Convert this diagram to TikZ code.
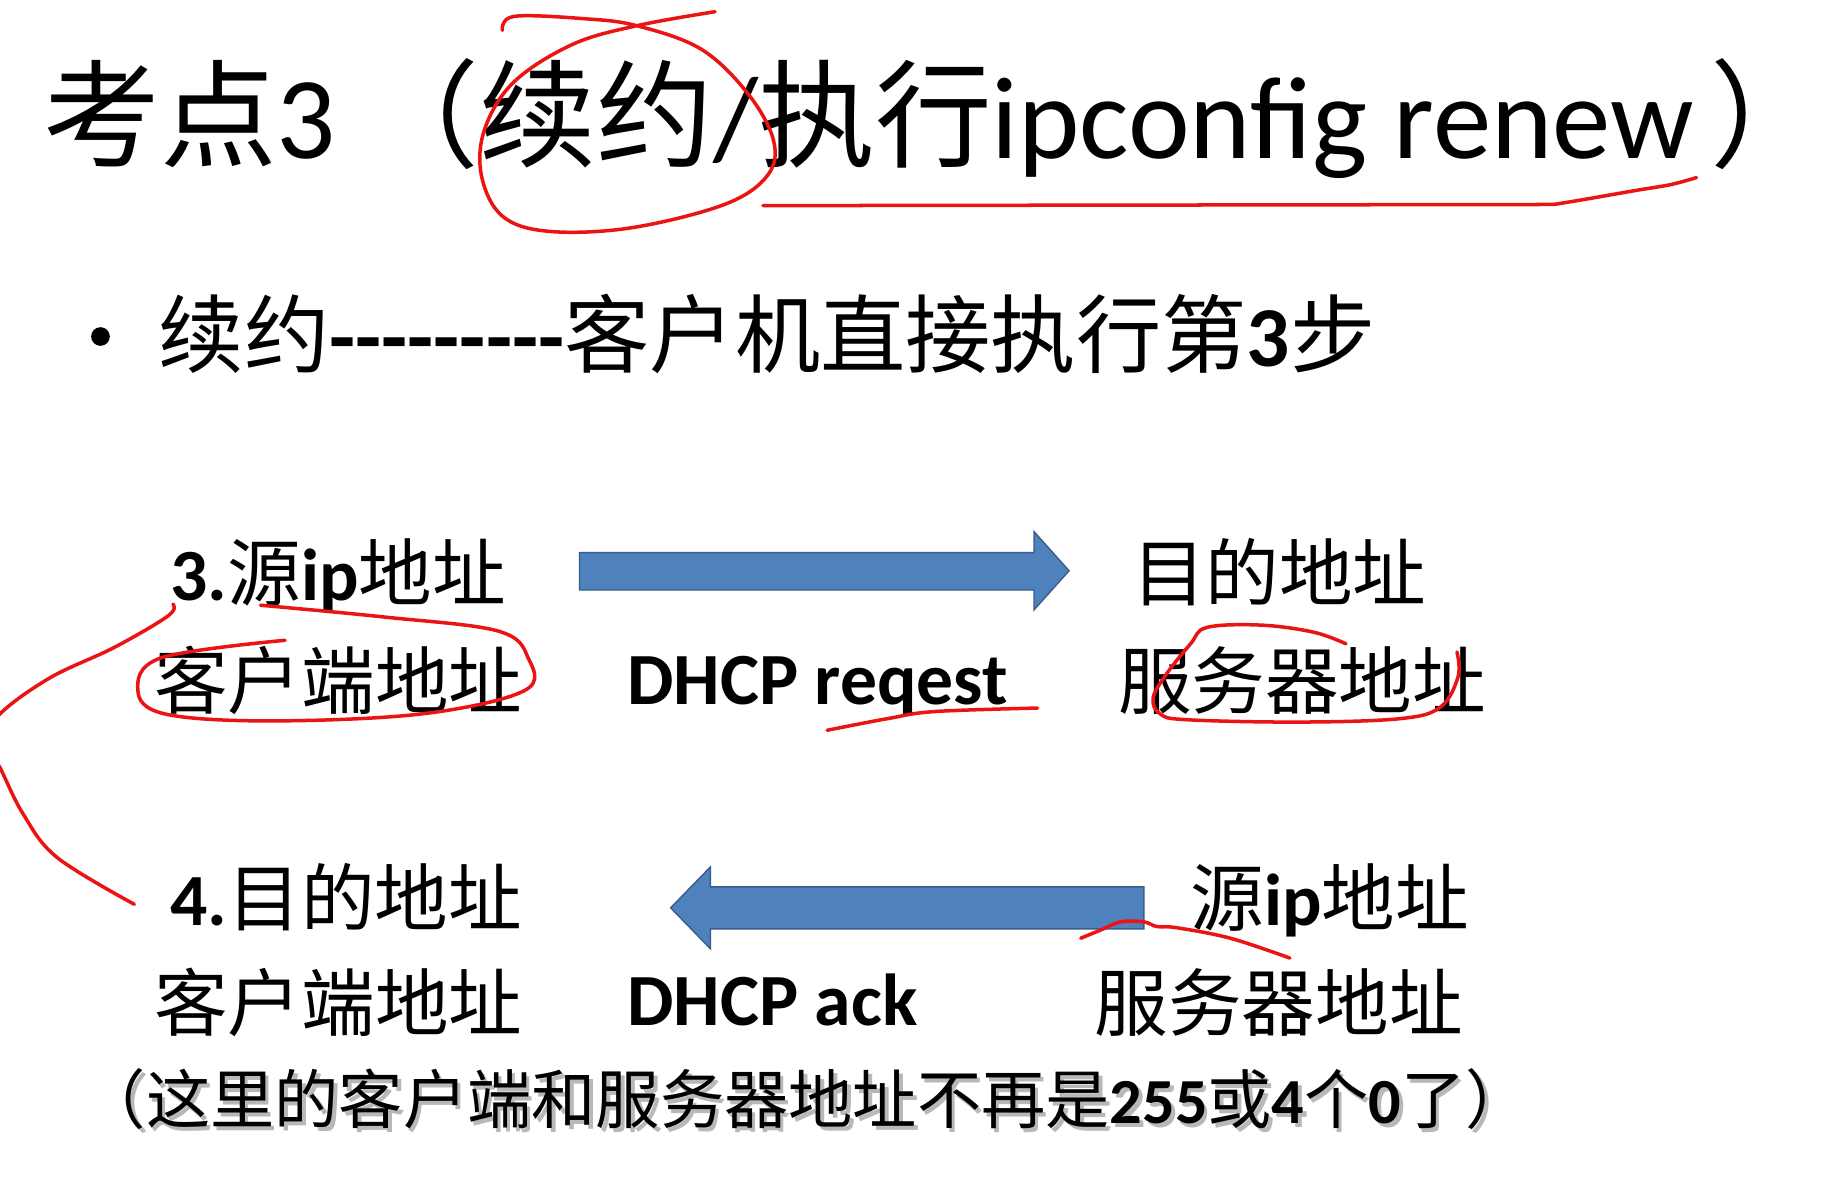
\documentclass[tikz,border=0pt]{standalone}
\usepackage{fontspec}
\setmainfont{Carlito}
\newfontfamily\cjk{Noto Sans CJK SC}
\definecolor{inkred}{RGB}{235,20,20}
\definecolor{arrowblue}{RGB}{79,129,189}
\definecolor{arrowedge}{RGB}{56,93,138}
\newcommand\hy{\mbox{-}}
\newcommand\bottomline{{\cjk （这里的客户端和服务器地址不再是}\textbf{255}{\cjk 或}\textbf{4}{\cjk 个}\textbf{0}{\cjk 了）}}
\begin{document}
\begin{tikzpicture}[x=0.5pt,y=-0.5pt,
  txt/.style={inner sep=0pt,outer sep=0pt,anchor=base west},
  rowtxt/.style={txt,font=\fontsize{31.5pt}{36pt}\selectfont},
  notetxt/.style={txt,font=\fontsize{27.5pt}{32pt}\selectfont},
  titletxt/.style={txt,font=\fontsize{50pt}{60pt}\selectfont},
  ink/.style={draw=inkred,line width=1.5pt,line cap=round,line join=round},
  blockarrow/.style={fill=arrowblue,draw=arrowedge,line width=0.6pt,line join=miter}]
\useasboundingbox[fill=white] (0,0) rectangle (1568,1030);

% title
\node[titletxt] (title) at (37,136)
  {{\cjk 考点}3 {\cjk （续约}/{\cjk 执行}ipconfig renew};
\node[titletxt] (titleparen) at (1464,136) {\cjk ）};

% bullet line
\node[circle,fill=black,inner sep=0pt,minimum size=8pt] (bullet) at (86,288) {};
\node[txt,font=\fontsize{36.5pt}{40pt}\selectfont] (b1) at (136,314)
  {{\cjk 续约}\textbf{\hy\hy\hy\hy\hy\hy\hy\hy\hy}{\cjk 客户机直接执行第}\textbf{3}{\cjk 步}};

% step 3
\node[rowtxt] (src1) at (146,514) {\textbf{3.}{\cjk 源}\textbf{ip}{\cjk 地址}};
\node[rowtxt] (cli1) at (132,606) {\cjk 客户端地址};
\node[rowtxt] (dst1) at (969,514) {\cjk 目的地址};
\node[rowtxt] (srv1) at (957,606) {\cjk 服务器地址};
\node[rowtxt,font=\fontsize{31.5pt}{36pt}\selectfont\bfseries] (req) at (537,603) {DHCP reqest};

% step 4
\node[rowtxt] (dst2) at (146,792) {\textbf{4.}{\cjk 目的地址}};
\node[rowtxt] (cli2) at (132,882) {\cjk 客户端地址};
\node[rowtxt] (src2) at (1019,792) {{\cjk 源}\textbf{ip}{\cjk 地址}};
\node[rowtxt] (srv2) at (937,882) {\cjk 服务器地址};
\node[rowtxt,font=\fontsize{31.5pt}{36pt}\selectfont\bfseries] (ack) at (537,878) {DHCP ack};

% bottom note with shadow
\node[notetxt,text=black!28] (noteshadow) at (73,965) {\bottomline};
\node[notetxt] (note) at (70,962) {\bottomline};

% block arrows
\path[blockarrow] (496,473) -- (885,473) -- (885,455) -- (915,488.5) -- (885,522) -- (885,505) -- (496,505) -- cycle;
\path[blockarrow] (979,759) -- (608,759) -- (608,742) -- (574,777) -- (608,812) -- (608,795) -- (979,795) -- cycle;

% red handwriting
\draw[ink] plot[smooth,tension=0.6] coordinates {(430,26) (440,14) (500,16) (545,22) (600,42) (640,80) (662,120) (657,150) (620,175) (540,195) (470,198) (430,185) (412,150) (415,110) (440,70) (490,38) (545,22) (612,10)};
\draw[ink] (653,176) -- (1330,175);
\draw[ink] plot[smooth,tension=0.5] coordinates {(1330,175) (1360,170) (1400,163) (1430,158) (1452,152)};
\draw[ink] plot[smooth,tension=0.6] coordinates {(148,517) (144,527) (98,554) (43,580) (0,611) (-12,635) (0,657) (20,697) (49,734) (115,774)};
\draw[ink] plot[smooth,tension=0.6] coordinates {(244,548) (138,563) (118,591) (141,611) (230,617) (361,611) (449,591) (452,563) (426,540) (328,528) (223,518)};
\draw[ink] plot[smooth,tension=0.6] coordinates {(708,625) (760,615) (800,609) (888,606)};
\draw[ink] plot[smooth,tension=0.6] coordinates {(1152,551) (1124,541) (1079,535) (1033,537) (1019,551) (999,576) (987,597) (993,611) (1016,616) (1113,618) (1199,615) (1233,605) (1248,579) (1247,558)};
\draw[ink] plot[smooth,tension=0.6] coordinates {(925,803) (942,796) (959,789) (979,789) (990,793) (1007,794) (1053,803) (1104,820)};
\end{tikzpicture}
\end{document}
